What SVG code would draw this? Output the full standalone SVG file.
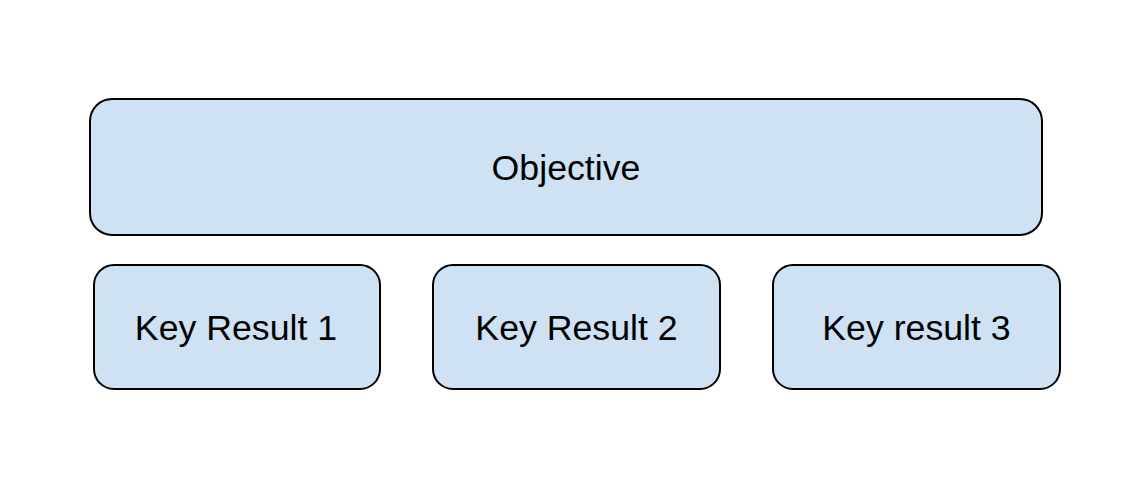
<svg xmlns="http://www.w3.org/2000/svg" width="1134" height="490" viewBox="0 0 1134 490">
<style>
.box{fill:#cfe2f3;stroke:#000;stroke-width:2}
.lbl{font-family:"Liberation Sans",Arial,sans-serif;font-size:35.7px;fill:#000;text-anchor:middle}
</style>
<rect width="1134" height="490" fill="#fff"/>
<g id="objective"><rect class="box" x="90" y="99" width="952" height="136" rx="22"/><text class="lbl" x="566" y="180">Objective</text></g>
<g id="kr1"><rect class="box" x="94" y="265" width="286" height="124" rx="20"/><text class="lbl" x="236" y="340">Key Result 1</text></g>
<g id="kr2"><rect class="box" x="433" y="265" width="287" height="124" rx="20"/><text class="lbl" x="576.5" y="340">Key Result 2</text></g>
<g id="kr3"><rect class="box" x="773" y="265" width="287" height="124" rx="20"/><text class="lbl" x="916.5" y="340">Key result 3</text></g>
<g id="connectors"></g>
</svg>
